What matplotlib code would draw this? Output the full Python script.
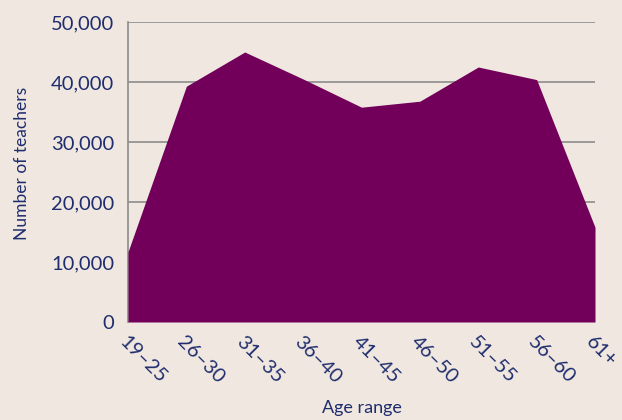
import matplotlib.pyplot as plt
import numpy as np

# teachers by age band
age_ranges = ['19–25', '26–30', '31–35', '36–40', '41–45', '46–50', '51–55', '56–60', '61+']
teachers = [11700, 39300, 45000, 40500, 35800, 36800, 42500, 40400, 15800]
y_ticks = [0, 10000, 20000, 30000, 40000, 50000]

bg = '#f0e8e0'
navy = '#1f2d6e'
purple = '#72005a'

plt.rcParams['font.family'] = ['Lato', 'DejaVu Sans']

fig = plt.figure(figsize=(6.22, 4.2), dpi=100, facecolor=bg)
ax = fig.add_axes([128 / 622, 98 / 420, 467 / 622, 300 / 420])
ax.set_facecolor(bg)

x = np.arange(len(age_ranges))
ax.fill_between(x, teachers, 0, color=purple, lw=0, zorder=3)

ax.set_xlim(0, len(age_ranges) - 1)
ax.set_ylim(0, 50000)
ax.set_yticks(y_ticks)
ax.set_yticklabels([f'{v:,}' for v in y_ticks])
ax.yaxis.grid(True, color='#8c8c8c', lw=1.2, zorder=1)
ax.set_axisbelow(True)

for s in ['top', 'right', 'bottom']:
    ax.spines[s].set_visible(False)
ax.spines['left'].set_color('#8c8c8c')
ax.spines['left'].set_linewidth(1.2)

ax.set_xticks(x)
ax.set_xticklabels(age_ranges, rotation=-45, ha='left', va='top', rotation_mode='anchor')
ax.tick_params(axis='both', length=0, colors=navy, labelsize=14.5)
ax.tick_params(axis='x', pad=8)
ax.tick_params(axis='y', pad=10)

ax.set_xlabel('Age range', color=navy, fontsize=13, labelpad=10)
ax.set_ylabel('Number of teachers', color=navy, fontsize=12.5)
ax.yaxis.set_label_coords(-0.21, 0.53)

fig.savefig('out.png', dpi=100, facecolor=bg)
